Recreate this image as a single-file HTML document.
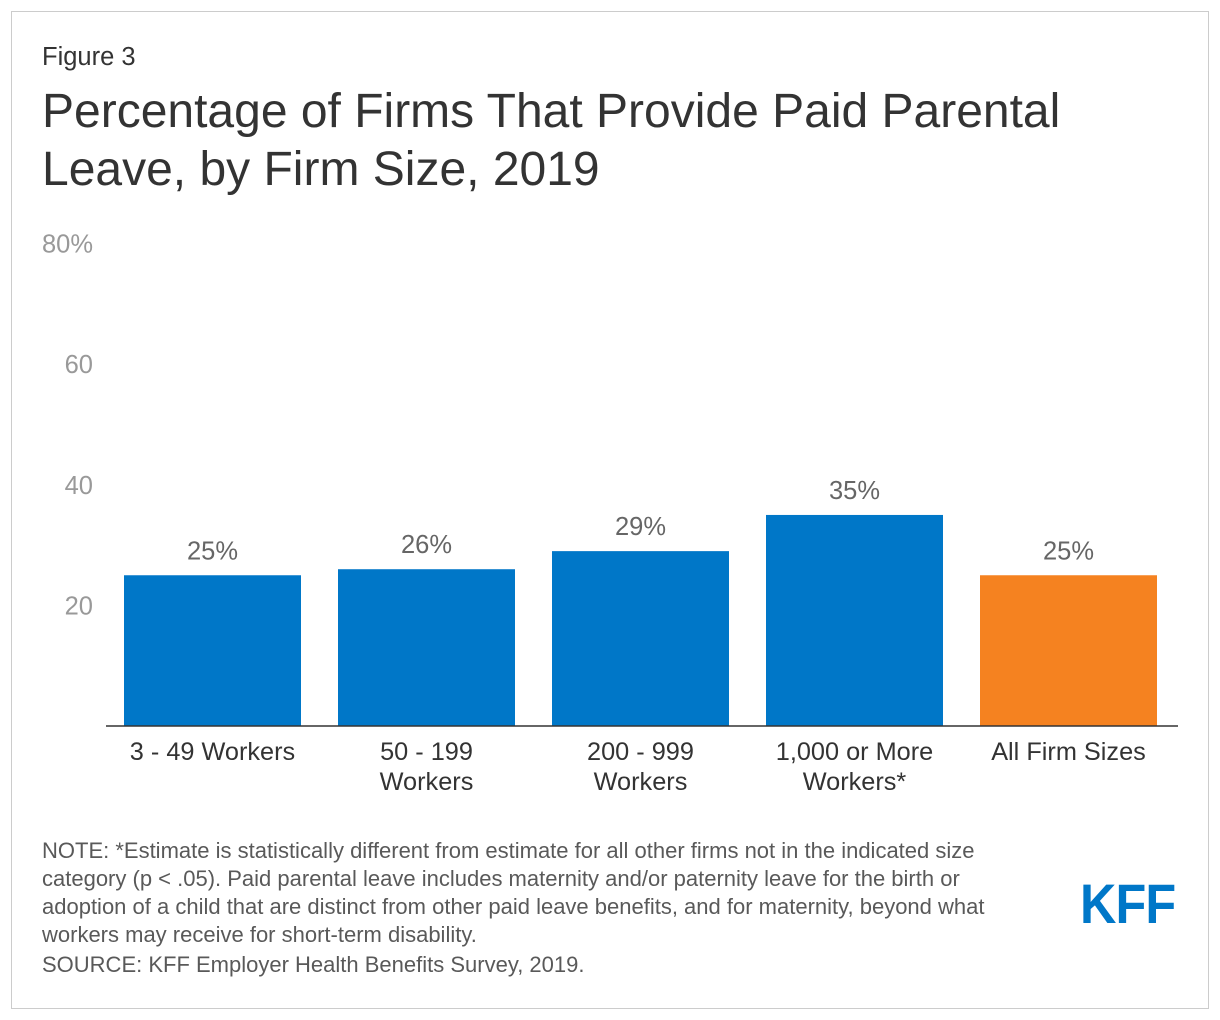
<!DOCTYPE html>
<html><head><meta charset="utf-8"><style>
body{margin:0;width:1220px;height:1020px;background:#fff;font-family:"Liberation Sans",Arial,sans-serif;position:relative;overflow:hidden}
.frame{position:absolute;left:11px;top:11px;width:1196px;height:996px;border:1px solid #ccc}
.abs{position:absolute}
</style></head><body>
<div class="frame"></div>
<div class="abs" style="left:42px;top:43px;font-size:25.5px;color:#333">Figure 3</div>
<div class="abs" style="left:42px;top:83px;font-size:48px;line-height:58px;color:#333;white-space:nowrap">Percentage of Firms That Provide Paid Parental<br>Leave, by Firm Size, 2019</div>
<svg class="abs" style="left:0;top:0" width="1220" height="1020">
<g id="g"></g>
</svg>
<div class="abs" style="left:42px;top:837px;font-size:22px;line-height:28px;color:#595959;white-space:nowrap">NOTE: *Estimate is statistically different from estimate for all other firms not in the indicated size<br>category (p &lt; .05). Paid parental leave includes maternity and/or paternity leave for the birth or<br>adoption of a child that are distinct from other paid leave benefits, and for maternity, beyond what<br>workers may receive for short-term disability.<div style="margin-top:2px">SOURCE: KFF Employer Health Benefits Survey, 2019.</div></div>
<div class="abs" style="left:1080px;top:872px;font-size:56px;font-weight:bold;color:#0077c8;letter-spacing:-1px;transform:scaleX(0.9);transform-origin:left;line-height:64px">KFF</div>
<script>
const categories=[["3 - 49 Workers"],["50 - 199","Workers"],["200 - 999","Workers"],["1,000 or More","Workers*"],["All Firm Sizes"]];
const values=[25,26,29,35,25];
const colors=["#0077c8","#0077c8","#0077c8","#0077c8","#f58220"];
const ticks=[20,40,60,80];
const tickLabels=["20","40","60","80%"];
const ns="http://www.w3.org/2000/svg",g=document.getElementById("g");
const y0=726,ppu=6.03,x0=124,step=214,bw=177;
const y=v=>y0-v*ppu;
function mk(t,a,txt){const e=document.createElementNS(ns,t);for(const k in a)e.setAttribute(k,a[k]);if(txt!=null)e.textContent=txt;g.appendChild(e);return e;}
ticks.forEach((t,i)=>{
const e=mk("text",{x:93,y:y(t)+9,"text-anchor":"end","font-size":25.5,fill:"#999"},tickLabels[i]);


});
values.forEach((v,i)=>{
const x=x0+i*step;
const r=mk("rect",{x:x,y:y(v),width:bw,height:y0-y(v),fill:colors[i]});


const l=mk("text",{x:x+bw/2,y:y(v)-16,"text-anchor":"middle","font-size":25.5,fill:"#666"},v+"%");


categories[i].forEach((s,j)=>{
const c=mk("text",{x:x+bw/2,y:760+j*30,"text-anchor":"middle","font-size":25.3,fill:"#333"},s);


});
});
const ax=mk("line",{x1:106,x2:1178,y1:y0,y2:y0,stroke:"#333","stroke-width":1.5});


</script>
</body></html>
